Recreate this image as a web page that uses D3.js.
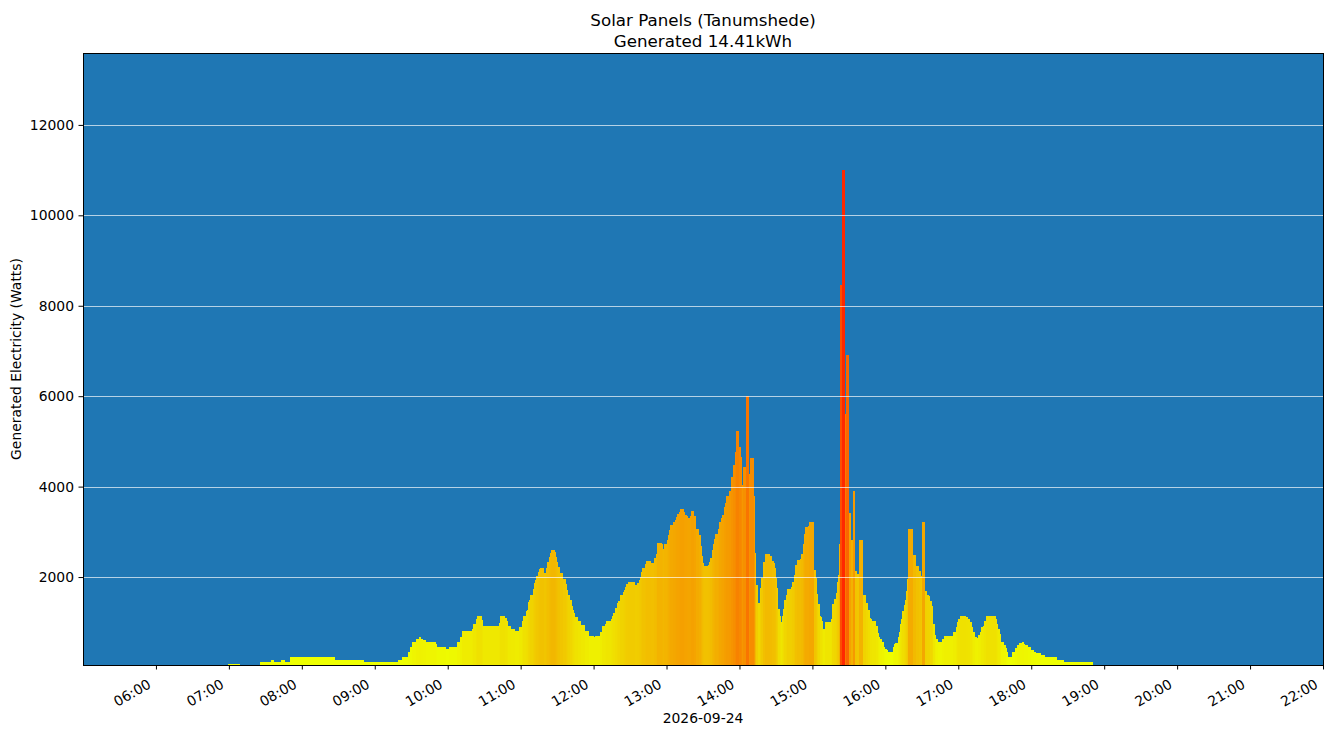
<!DOCTYPE html>
<html>
<head>
<meta charset="utf-8">
<script src="https://cdn.jsdelivr.net/npm/d3@7"></script>
<style>
  body { margin: 0; background: #fff; }
  text { font-family: "DejaVu Sans", sans-serif; fill: #000; }
</style>
</head>
<body>
<div id="chart"></div>
<script>
// readings: each value holds from its time until the next time
var day = "2026-09-24";
var times = [
  "06:59","07:09","07:26","07:35","07:37","07:43","07:46","07:50","08:27","08:51",
  "09:19","09:22","09:27","09:29","09:31","09:34","09:36","09:38","09:40","09:42",
  "09:50","09:51","09:59","10:01","10:08","10:10","10:12","10:20","10:21","10:23",
  "10:24","10:28","10:29","10:42","10:43","10:47","10:49","10:50","10:52","10:55",
  "10:59","11:01","11:02","11:04","11:05","11:06","11:07","11:08","11:10","11:11",
  "11:12","11:13","11:14","11:15","11:16","11:19","11:21","11:22","11:23","11:24",
  "11:25","11:28","11:29","11:30","11:31","11:32","11:35","11:37","11:38","11:39",
  "11:41","11:42","11:43","11:44","11:45","11:47","11:50","11:53","11:56","12:00",
  "12:01","12:05","12:07","12:09","12:10","12:14","12:15","12:16","12:18","12:19",
  "12:20","12:22","12:24","12:25","12:26","12:27","12:28","12:34","12:36","12:37",
  "12:38","12:39","12:40","12:42","12:43","12:47","12:50","12:51","12:52","12:56",
  "12:57","12:58","13:00","13:01","13:02","13:03","13:05","13:07","13:08","13:09",
  "13:10","13:11","13:14","13:15","13:17","13:18","13:19","13:20","13:23","13:24",
  "13:27","13:28","13:29","13:30","13:31","13:34","13:35","13:36","13:37","13:38",
  "13:39","13:40","13:42","13:43","13:45","13:46","13:47","13:48","13:49","13:51",
  "13:53","13:55","13:56","13:57","14:00","14:01","14:02","14:03","14:05","14:08",
  "14:09","14:12","14:13","14:14","14:15","14:17","14:18","14:19","14:21","14:25",
  "14:27","14:28","14:29","14:30","14:31","14:32","14:33","14:34","14:35","14:36",
  "14:37","14:38","14:39","14:42","14:43","14:45","14:46","14:47","14:50","14:51",
  "14:52","14:53","14:54","14:56","14:57","15:01","15:03","15:04","15:05","15:06",
  "15:07","15:08","15:09","15:10","15:15","15:16","15:18","15:19","15:20","15:21",
  "15:22","15:23","15:24","15:27","15:28","15:30","15:32","15:33","15:35","15:37",
  "15:38","15:42","15:44","15:46","15:47","15:48","15:49","15:52","15:54","15:55",
  "15:56","15:57","15:59","16:00","16:01","16:02","16:06","16:07","16:08","16:10",
  "16:11","16:12","16:13","16:14","16:15","16:16","16:17","16:18","16:19","16:23",
  "16:25","16:28","16:29","16:30","16:33","16:34","16:36","16:37","16:38","16:39",
  "16:41","16:42","16:43","16:47","16:48","16:56","16:58","16:59","17:00","17:01",
  "17:06","17:08","17:10","17:11","17:12","17:14","17:15","17:16","17:18","17:19",
  "17:20","17:21","17:23","17:31","17:32","17:33","17:34","17:35","17:38","17:39",
  "17:40","17:41","17:44","17:47","17:48","17:50","17:52","17:54","17:55","17:57",
  "18:00","18:02","18:04","18:08","18:11","18:21","18:27","18:51"
];
var watts = [
  80,0,120,166,120,166,120,232,166,120,
  166,240,340,460,560,630,675,640,610,565,
  520,455,415,455,565,675,810,850,960,1080,
  1140,1050,920,980,1140,1095,1030,910,850,810,
  900,1020,1140,1250,1265,1450,1490,1600,1730,1860,
  1940,2030,2110,2180,2200,2090,2200,2330,2445,2540,
  2600,2555,2445,2330,2220,2090,1960,1850,1715,1600,
  1490,1360,1270,1205,1115,1030,930,808,705,683,
  705,786,918,963,1029,1080,1140,1200,1320,1420,
  1470,1600,1660,1720,1780,1840,1890,1825,1870,1935,
  1995,2110,2200,2290,2355,2320,2420,2510,2755,2730,
  2630,2730,2820,2930,3035,3150,3220,3260,3330,3390,
  3430,3500,3440,3375,3350,3315,3350,3465,3350,3065,
  2930,2690,2470,2310,2250,2270,2330,2420,2600,2730,
  2840,2950,3065,3220,3300,3375,3550,3640,3795,3905,
  4215,4480,4770,5230,4880,4650,4040,4440,6000,4280,
  4635,3795,2530,1825,1430,1760,1980,2335,2510,2470,
  2356,2310,2200,1980,1760,1295,1140,1007,1140,1295,
  1490,1600,1740,1780,1890,2046,2270,2380,2400,2510,
  2730,2950,3110,3130,3220,2160,1980,1630,1405,1140,
  1117,1030,850,1007,1073,1405,1515,1650,1900,2046,
  2730,8460,11000,5610,6910,3420,2820,3905,2135,2070,
  2820,1604,1427,1272,1095,1073,1029,918,763,675,
  620,564,454,409,387,343,454,520,542,675,
  785,962,1073,1250,1383,1500,1700,1950,3060,2490,
  2246,2135,2030,3220,1692,1604,1582,1471,1361,962,
  719,640,564,630,697,785,896,1007,1073,1139,
  1117,1073,1007,896,785,675,653,719,785,896,
  918,1029,1139,1073,962,852,741,564,498,431,
  343,232,343,431,498,542,564,520,498,454,
  387,343,321,277,232,166,122,0
];
var yTicks = [2000, 4000, 6000, 8000, 10000, 12000];
var xTicks = ["06:00","07:00","08:00","09:00","10:00","11:00","12:00","13:00","14:00",
              "15:00","16:00","17:00","18:00","19:00","20:00","21:00","22:00"];
var titleLines = ["Solar Panels (Tanumshede)", "Generated 14.41kWh"];

var W = 1333, H = 736;
var margin = {top: 53, right: 10, bottom: 71, left: 83};
var iw = W - margin.left - margin.right, ih = H - margin.top - margin.bottom;
var parse = d3.timeParse("%Y-%m-%d %H:%M");
var at = function (hm) { return parse(day + " " + hm); };

var x = d3.scaleTime().domain([at("05:00"), at("22:00")]).range([0, iw]);
var y = d3.scaleLinear().domain([55, 13590]).range([ih, 0]);
var color = d3.scaleLinear()
  .domain([300, 800, 1500, 2500, 3500, 5000, 6500, 11000])
  .range(["#eeff00", "#efec00", "#f0d600", "#f2ba00", "#f5a000", "#f78600", "#fa6c00", "#ff2800"])
  .clamp(true);

var bars = [];
for (var i = 0; i < times.length - 1; i++) {
  if (watts[i] > 0) bars.push({t0: at(times[i]), t1: at(times[i + 1]), v: watts[i]});
}

var svg = d3.select("#chart").append("svg").attr("width", W).attr("height", H);
svg.append("defs").append("clipPath").attr("id", "clip")
  .append("rect").attr("width", iw).attr("height", ih);

var g = svg.append("g").attr("transform", "translate(" + margin.left + "," + margin.top + ")");
g.append("rect").attr("width", iw).attr("height", ih).attr("fill", "#1f77b4");

g.append("g").attr("clip-path", "url(#clip)")
  .selectAll("rect").data(bars).enter().append("rect")
  .attr("x", function (d) { return x(d.t0); })
  .attr("width", function (d) { return x(d.t1) - x(d.t0); })
  .attr("y", function (d) { return y(d.v); })
  .attr("height", function (d) { return ih + 5 - y(d.v); })
  .attr("fill", function (d) { return color(d.v); })
  .attr("shape-rendering", "crispEdges");

// grid over the bars
g.append("g").selectAll("line").data(yTicks).enter().append("line")
  .attr("x1", 0).attr("x2", iw)
  .attr("y1", function (d) { return Math.round(y(d)) + 0.5; })
  .attr("y2", function (d) { return Math.round(y(d)) + 0.5; })
  .attr("stroke", "#ffffff").attr("stroke-opacity", 0.75).attr("stroke-width", 0.9);

var yAxis = g.append("g")
  .call(d3.axisLeft(y).tickValues(yTicks).tickSize(4.5).tickPadding(4.5).tickFormat(d3.format("d")));
yAxis.select(".domain").remove();
yAxis.selectAll("text").style("font-size", "13.9px").style("font-family", "DejaVu Sans");
yAxis.selectAll("line").attr("stroke", "#000");

var xAxis = g.append("g").attr("transform", "translate(0," + ih + ")")
  .call(d3.axisBottom(x).tickValues(xTicks.map(at)).tickSize(4.5).tickFormat(""));
xAxis.select(".domain").remove();
xAxis.selectAll("line").attr("stroke", "#000");
xAxis.selectAll(".tick").append("text")
  .attr("text-anchor", "end")
  .attr("transform", "translate(-4.5,22) rotate(-30)")
  .style("font-size", "13.9px")
  .text(function (d, i) { return xTicks[i]; });

g.append("rect").attr("width", iw).attr("height", ih)
  .attr("fill", "none").attr("stroke", "#000").attr("stroke-width", 1)
  .attr("shape-rendering", "crispEdges");

svg.append("text").attr("x", margin.left + iw / 2).attr("y", 723)
  .attr("text-anchor", "middle").style("font-size", "13.9px").text(day);

svg.append("text").attr("transform", "translate(20.5," + (margin.top + ih / 2) + ") rotate(-90)")
  .attr("text-anchor", "middle").style("font-size", "13.9px")
  .text("Generated Electricity (Watts)");

svg.selectAll(".title").data(titleLines).enter().append("text")
  .attr("class", "title")
  .attr("x", margin.left + iw / 2)
  .attr("y", function (d, i) { return 25.5 + i * 21; })
  .attr("text-anchor", "middle").style("font-size", "16.7px")
  .text(function (d) { return d; });
</script>
</body>
</html>
